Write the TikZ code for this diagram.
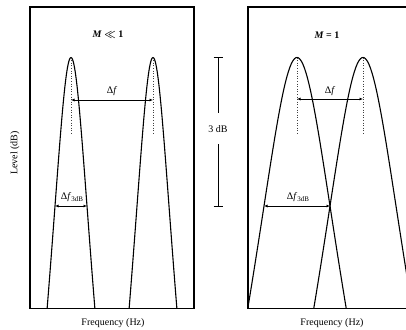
\documentclass[tikz,border=0pt]{standalone}
\usepackage{fontspec}
\setmainfont{Liberation Serif}
\usetikzlibrary{arrows.meta}
\newcommand{\lorpeak}[2]{%
  \draw[curve] plot[domain=-2.2557:2.2557,samples=80,smooth]
    ({#1+#2*\x*sqrt(abs(10^(\x*\x/10)-1)/(\x*\x))},{57.5+49.33*\x*\x});}
\begin{document}
\begin{tikzpicture}[x=1pt,y=-1pt,
  frame/.style={line width=1.1pt},
  curve/.style={line width=1.1pt,line join=round},
  guide/.style={dotted,line width=0.6pt,black!75},
  dim/.style={{Latex[length=3.5pt,width=3pt]}-{Latex[length=3.5pt,width=3pt]},line width=0.9pt},
  lab/.style={font=\fontsize{10}{12}\selectfont,inner sep=0pt},
  bar/.style={line width=0.9pt}]
\useasboundingbox (0,0) rectangle (406,329);
\clip (0,0) rectangle (406,329);
% frames
\draw[frame] (30,7) rectangle (194,308.5);
\draw[frame] (248,7) rectangle (420,308.5);
% left panel peaks
\lorpeak{71}{16}
\lorpeak{153}{16}
% right panel peaks
\lorpeak{297}{33}
\lorpeak{363}{33}
% peak coordinates and guides
\coordinate (pa) at (71,57.5);   \coordinate (pa0) at (71,135);
\coordinate (pb) at (153,57.5);  \coordinate (pb0) at (153,135);
\coordinate (pc) at (297,57.5);  \coordinate (pc0) at (297,135);
\coordinate (pd) at (363,57.5);  \coordinate (pd0) at (363,135);
\draw[guide] (pa) -- (pa0);
\draw[guide] (pb) -- (pb0);
\draw[guide] (pc) -- (pc0);
\draw[guide] (pd) -- (pd0);
% delta f arrows
\coordinate (fa1) at (71,100); \coordinate (fa2) at (153,100);
\draw[dim] (fa1) -- (fa2);
\node[lab] (dfl) at (112,91) {Δ\textit{f}};
\coordinate (fc1) at (297,99); \coordinate (fc2) at (363,99);
\draw[dim] (fc1) -- (fc2);
\node[lab] (dfr) at (330,91) {Δ\textit{f}};
% 3 dB widths
\coordinate (wa1) at (55,206); \coordinate (wa2) at (87,206);
\draw[dim] (wa1) -- (wa2);
\node[lab] (dfla) at (72,197) {Δ\textit{f}\raisebox{-0.35ex}{\fontsize{7}{8}\selectfont 3dB}};
\coordinate (wc1) at (264,206); \coordinate (wc2) at (330,206);
\draw[dim] (wc1) -- (wc2);
\node[lab] (dfra) at (298,197) {Δ\textit{f}\raisebox{-0.35ex}{\fontsize{7}{8}\selectfont 3dB}};
% titles
\node[lab] (tl) at (108,35) {\textbf{\textit{M}} {\boldmath$\ll$} \textbf{1}};
\node[lab] (tr) at (327,35) {\textbf{\textit{M}} \textbf{=} \textbf{1}};
% 3 dB scale bar
\node[lab] (db) at (218,129) {3 dB};
\coordinate (bt) at (218,57.5); \coordinate (bb) at (218,206);
\draw[bar] (bt) -- (db.north |- 0,113);
\draw[bar] (db.south |- 0,144) -- (bb);
\draw[bar] ([xshift=-4.5pt]bt) -- ([xshift=4.5pt]bt);
\draw[bar] ([xshift=-4.5pt]bb) -- ([xshift=4.5pt]bb);
% axis labels
\node[lab,rotate=90] (yl) at (15,153) {Level (dB)};
\node[lab] (xl) at (113,323) {Frequency (Hz)};
\node[lab] (xr) at (332,323) {Frequency (Hz)};
\end{tikzpicture}
\end{document}
